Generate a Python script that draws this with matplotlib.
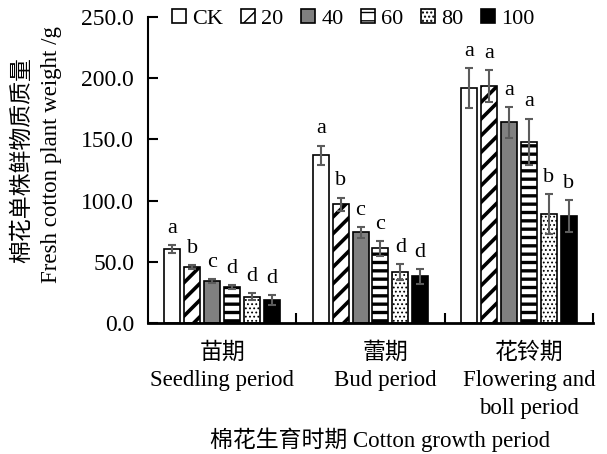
import numpy as np
import matplotlib
matplotlib.use('Agg')
import matplotlib.pyplot as plt
import matplotlib.transforms as mtransforms
from matplotlib.ticker import FormatStrFormatter, FixedLocator, MultipleLocator

plt.rcParams['font.family'] = ['Liberation Serif', 'Noto Sans CJK SC']

periods = ['苗期\nSeedling period', '蕾期\nBud period', '花铃期\nFlowering and\nboll period']
treatments = ['CK', '20', '40', '60', '80', '100']

# fresh weight per plant (g) for each treatment, one list per growth period
seedling_mean = [60.5, 45.5, 34.5, 29.5, 21.5, 18.5]
seedling_err = [3.0, 1.5, 1.5, 1.5, 3.0, 4.0]
seedling_sig = ['a', 'b', 'c', 'd', 'd', 'd']

bud_mean = [137.0, 97.0, 74.0, 61.0, 41.5, 38.0]
bud_err = [8.0, 5.5, 4.5, 6.0, 6.5, 6.0]
bud_sig = ['a', 'b', 'c', 'c', 'd', 'd']

boll_mean = [192.0, 193.5, 164.0, 148.0, 89.0, 87.5]
boll_err = [16.0, 13.0, 12.5, 19.0, 16.0, 13.0]
boll_sig = ['a', 'a', 'a', 'a', 'b', 'b']

means = np.array([seedling_mean, bud_mean, boll_mean]).T
errs = np.array([seedling_err, bud_err, boll_err]).T
sigs = np.array([seedling_sig, bud_sig, boll_sig]).T

# fill, hatch, hatch line width
styles = [
    ('white', None, 1.0),
    ('white', '//', 2.6),
    ('#808080', None, 1.0),
    ('white', '--', 2.4),
    ('white', '....', 0.8),
    ('black', None, 1.0),
]

fig = plt.figure(figsize=(6.07, 4.54), dpi=100)
ax = fig.add_axes([148 / 607, 1 - 323 / 454, 445 / 607, 306 / 454])

x = np.arange(len(periods))
step = 0.134
width = 0.108
for i, name in enumerate(treatments):
    fill, hatch, hlw = styles[i]
    xi = x + (i - 2.5) * step
    with plt.rc_context({'hatch.linewidth': hlw, 'hatch.color': 'black'}):
        ax.bar(xi, means[i], width, color=fill, edgecolor='black',
               linewidth=1.2, hatch=hatch, label=name, zorder=2)
    ax.errorbar(xi, means[i], yerr=errs[i], fmt='none', ecolor='#5c5c5c',
                elinewidth=1.5, capsize=3, capthick=1.5, zorder=3)
    for xx, m, e, s in zip(xi, means[i], errs[i], sigs[i]):
        ax.annotate(s, (xx, m + e), xytext=(0, 12), textcoords='offset points',
                    ha='center', va='center', fontsize=16)

ax.set_xlim(-0.5, 2.5)
ax.set_ylim(0, 250)
ax.yaxis.set_major_locator(MultipleLocator(50))
ax.yaxis.set_major_formatter(FormatStrFormatter('%.1f'))
ax.tick_params(axis='y', direction='in', length=7, width=1.5, labelsize=17, pad=10)

ax.set_xticks(x)
ax.set_xticklabels(periods, fontsize=16.5, linespacing=1.4)
ax.xaxis.set_minor_locator(FixedLocator([0.5, 1.5, 2.5]))
ax.tick_params(axis='x', which='major', length=0, pad=14)
ax.tick_params(axis='x', which='minor', direction='in', length=7, width=1.5)

# nudge the second and third period labels to the right
for lbl, dx in zip(ax.get_xticklabels(), [0, 15, 10]):
    lbl.set_transform(lbl.get_transform() +
                      mtransforms.ScaledTranslation(dx / 100, 0, fig.dpi_scale_trans))

for side in ['top', 'right']:
    ax.spines[side].set_visible(False)
ax.spines['left'].set_linewidth(1.5)
ax.spines['bottom'].set_linewidth(2)

ax.legend(loc='upper left', bbox_to_anchor=(0.055, 1.025), ncol=6, frameon=False,
          fontsize=16, handlelength=0.6, handleheight=0.6, handletextpad=0.3,
          columnspacing=0.8, borderpad=0, borderaxespad=0)

fig.text(23 / 607, 1 - 160 / 454, '棉花单株鲜物质质量', rotation=90,
         ha='center', va='center', fontsize=16.5)
fig.text(51 / 607, 1 - 155 / 454, 'Fresh cotton plant weight /g', rotation=90,
         ha='center', va='center', fontsize=16.5)
fig.text(380 / 607, 1 - 440 / 454, '棉花生育时期 Cotton growth period',
         ha='center', va='center', fontsize=16.5)

fig.savefig('out.png', dpi=100)
